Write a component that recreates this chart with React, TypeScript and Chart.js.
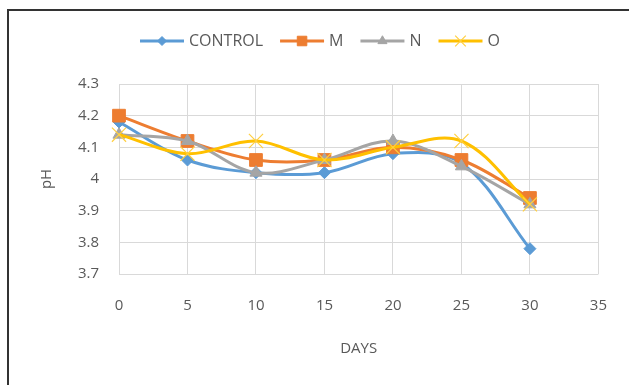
import { useEffect, useRef } from "react";
import { Chart, registerables } from "chart.js";
import { drawPoint } from "chart.js/helpers";

Chart.register(...registerables);

// Sampling days and measured pH per treatment
const days = [0, 5, 10, 15, 20, 25, 30];
const controlPh = [4.18, 4.06, 4.02, 4.02, 4.08, 4.05, 3.78];
const mPh = [4.2, 4.12, 4.06, 4.06, 4.1, 4.06, 3.94];
const nPh = [4.14, 4.12, 4.02, 4.06, 4.12, 4.04, 3.92];
const oPh = [4.14, 4.08, 4.12, 4.06, 4.1, 4.12, 3.92];

const seriesNames = ["CONTROL", "M", "N", "O"];
const xAxisTitle = "DAYS";
const yAxisTitle = "pH";

const xMin = 0;
const xMax = 35;
const xStep = 5;
const yMin = 3.7;
const yMax = 4.3;
const yStep = 0.1;

const FONT = "'Open Sans', 'Noto Sans', sans-serif";
const TEXT = "#595959";
const GRID = "#d9d9d9";

const toPoints = (vals: number[]) => days.map((d, i) => ({ x: d, y: vals[i] }));

// Legend drawn as line + marker swatches, Office style
const seriesKey = {
  id: "seriesKey",
  afterDraw(chart: any) {
    const ctx = chart.ctx as CanvasRenderingContext2D;
    ctx.save();
    ctx.font = `16px ${FONT}`;
    ctx.textBaseline = "middle";
    ctx.textAlign = "left";
    let x = 140;
    const y = 41;
    const lineLen = 44;
    chart.data.datasets.forEach((ds: any) => {
      ctx.strokeStyle = ds.borderColor;
      ctx.lineWidth = 3;
      ctx.beginPath();
      ctx.moveTo(x, y);
      ctx.lineTo(x + lineLen, y);
      ctx.stroke();
      ctx.fillStyle = ds.pointBackgroundColor;
      ctx.strokeStyle = ds.pointBorderColor;
      ctx.lineWidth = ds.pointBorderWidth;
      drawPoint(
        ctx,
        {
          pointStyle: ds.pointStyle,
          radius: ds.pointRadius * 0.75,
          borderWidth: ds.pointBorderWidth,
          rotation: 0,
        } as any,
        x + lineLen / 2,
        y
      );
      x += lineLen + 5;
      ctx.fillStyle = TEXT;
      ctx.fillText(ds.label, x, y);
      x += ctx.measureText(ds.label).width + 17;
    });
    ctx.restore();
  },
};

function series(
  label: string,
  vals: number[],
  color: string,
  pointStyle: string,
  radius: number,
  order: number,
  pointBorderWidth = 1,
  pointColor = color
) {
  return {
    label,
    data: toPoints(vals),
    borderColor: color,
    backgroundColor: color,
    borderWidth: 3,
    pointStyle,
    pointRadius: radius,
    pointHoverRadius: radius,
    pointBackgroundColor: pointColor,
    pointBorderColor: pointColor,
    pointBorderWidth,
    tension: 0.35,
    clip: false as const,
    order,
  };
}

export default function App() {
  const canvasRef = useRef<HTMLCanvasElement | null>(null);

  useEffect(() => {
    const canvas = canvasRef.current;
    if (!canvas) return;
    const tickFont = { family: FONT, size: 15 };
    const chart = new Chart(canvas, {
      type: "line",
      data: {
        datasets: [
          series(seriesNames[0], controlPh, "#5B9BD5", "rectRot", 6, 4),
          series(seriesNames[1], mPh, "#ED7D31", "rect", 9, 3),
          series(seriesNames[2], nPh, "#A5A5A5", "triangle", 7, 2),
          series(seriesNames[3], oPh, "#FFC000", "crossRot", 10, 1, 1.2, "#FFCF40"),
        ] as any,
      },
      options: {
        animation: false,
        responsive: false,
        layout: { padding: { top: 84, left: 30, right: 31, bottom: 0 } },
        plugins: {
          legend: { display: false },
          tooltip: { enabled: false },
        },
        scales: {
          x: {
            type: "linear",
            min: xMin,
            max: xMax,
            ticks: { stepSize: xStep, color: TEXT, font: tickFont, padding: 23 },
            grid: { color: GRID, drawTicks: false },
            border: { display: false },
            title: {
              display: true,
              text: xAxisTitle,
              color: TEXT,
              font: tickFont,
              padding: { top: 0, bottom: 27 },
            },
            afterFit: (s: any) => {
              s.height = 111;
            },
          },
          y: {
            min: yMin,
            max: yMax,
            ticks: {
              stepSize: yStep,
              color: TEXT,
              font: tickFont,
              padding: 20,
              callback: (v: any) => String(Number(Number(v).toFixed(1))),
            },
            grid: { color: GRID, drawTicks: false },
            border: { display: false },
            title: {
              display: true,
              text: yAxisTitle,
              color: TEXT,
              font: tickFont,
              padding: { top: 8, bottom: 0 },
            },
            afterFit: (s: any) => {
              s.width = 89;
            },
          },
        },
      },
      plugins: [seriesKey],
    });
    return () => chart.destroy();
  }, []);

  return (
    <div
      style={{
        position: "absolute",
        left: 0,
        top: 0,
        width: 630,
        height: 385,
        overflow: "hidden",
        background: "#fff",
      }}
    >
      <div
        style={{
          position: "absolute",
          left: 7,
          top: 9,
          width: 620,
          height: 500,
          borderTop: "2px solid #333",
          borderLeft: "2px solid #333",
        }}
      />
      <canvas
        ref={canvasRef}
        width={630}
        height={385}
        style={{ position: "absolute", left: 0, top: 0, display: "block" }}
      />
    </div>
  );
}
